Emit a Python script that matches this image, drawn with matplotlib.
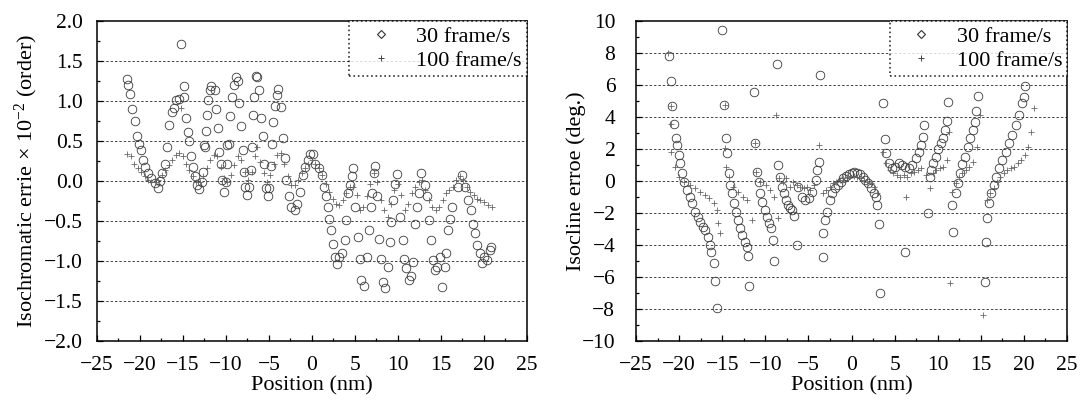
import numpy as np
import matplotlib.pyplot as plt
from matplotlib.lines import Line2D
from matplotlib.ticker import MultipleLocator

plt.rcParams['font.family'] = ['Liberation Serif', 'DejaVu Serif']
plt.rcParams['mathtext.fontset'] = 'custom'
plt.rcParams['mathtext.rm'] = 'Liberation Serif'
plt.rcParams['mathtext.it'] = 'Liberation Serif:italic'
plt.rcParams['axes.unicode_minus'] = True

# isochromatic error, 30 frame/s (circles)
iso_x30 = [-21.47, -21.35, -21.15, -20.87, -20.55, -20.35, -20.15, -19.86, -19.66, -19.38,
           -19.06, -18.66, -18.26, -17.94, -17.66, -17.4, -17.1, -16.85, -16.6, -16.33,
           -16.05, -15.85, -15.5, -15.17, -14.93, -14.85, -14.65, -14.45, -14.25, -14.05,
           -13.85, -13.64, -13.36, -13.12, -12.84, -12.64, -12.6, -12.44, -12.32, -12.24,
           -12.1, -11.9, -11.76, -11.24, -11.1, -10.95, -10.79, -10.63, -10.43, -10.23,
           -10.03, -9.9, -9.83, -9.67, -9.51, -9.35, -9.11, -8.83, -8.63, -8.43,
           -8.23, -8.03, -7.91, -7.74, -7.58, -7.34, -7.14, -7.02, -6.9, -6.74,
           -6.54, -6.38, -6.14, -5.94, -5.74, -5.54, -5.3, -5.14, -4.94, -4.78,
           -4.61, -4.49, -4.33, -4.09, -3.89, -3.61, -3.41, -3.17, -2.97, -2.69,
           -2.41, -2.0, -1.73, -1.4, -1.08, -0.8, -0.48, -0.2, 0.08, 0.4,
           0.8, 1.12, 1.4, 1.65, 1.89, 2.0, 2.2, 2.4, 2.69, 2.93,
           3.21, 3.53, 3.81, 3.93, 4.21, 4.41, 4.61, 4.78, 5.0, 5.33,
           5.54, 5.74, 6.06, 6.42, 6.62, 6.82, 7.02, 7.22, 7.34, 7.62,
           7.82, 8.03, 8.23, 8.55, 8.83, 9.03, 9.23, 9.43, 9.63, 9.91,
           10.23, 10.55, 10.71, 10.96, 11.24, 11.52, 11.76, 12.04, 12.24, 12.44,
           12.64, 13.12, 13.36, 13.6, 13.84, 14.08, 14.32, 14.57, 14.85, 15.13,
           15.45, 15.65, 15.85, 16.05, 16.25, 17.05, 17.46, 17.86, 18.18, 18.46,
           18.74, 18.98, 19.26, 19.54, 19.78, 20.06, 20.35, 20.67, 20.87]
iso_y30 = [1.28, 1.21, 1.09, 0.90, 0.75, 0.57, 0.47, 0.39, 0.27, 0.18,
           0.10, 0.04, -0.02, -0.09, 0.00, 0.10, 0.22, 0.43, 0.70, 0.86,
           0.91, 1.02, 1.03, 1.72, 1.19, 1.06, 0.79, 0.62, 0.50, 0.31,
           0.18, 0.06, -0.05, -0.10, -0.01, 0.12, 0.45, 0.43, 0.63, 0.83,
           1.02, 1.14, 1.19, 1.14, 0.90, 0.66, 0.37, 0.22, 0.01, -0.13,
           -0.01, 0.45, 0.22, 0.47, 0.82, 1.06, 1.21, 1.30, 1.25, 0.98,
           0.69, 0.39, 0.12, -0.07, -0.17, -0.07, 0.14, 0.43, 0.83, 1.06,
           1.32, 1.30, 1.14, 0.79, 0.56, 0.22, -0.09, -0.19, -0.09, 0.19,
           0.47, 0.74, 0.94, 1.08, 1.16, 0.93, 0.54, 0.29, 0.01, -0.19,
           -0.32, -0.36, -0.28, -0.13, 0.08, 0.18, 0.27, 0.34, 0.34, 0.22,
           0.16, 0.08, -0.07, -0.19, -0.32, -0.47, -0.61, -0.78, -0.95, -1.04,
           -0.95, -0.90, -0.73, -0.49, -0.15, -0.05, 0.06, 0.16, -0.32, -0.70,
           -0.97, -1.24, -1.31, -0.95, -0.61, -0.32, -0.15, 0.10, 0.19, -0.19,
           -0.72, -0.97, -1.26, -1.34, -1.07, -0.76, -0.51, -0.24, -0.03, 0.09,
           -0.45, -0.73, -0.97, -1.09, -1.24, -1.19, -1.01, -0.53, -0.32, -0.15,
           0.10, -0.05, -0.19, -0.49, -0.73, -0.99, -1.11, -1.07, -0.95, -1.32,
           -1.07, -0.90, -0.61, -0.47, -0.32, -0.07, 0.08, -0.07, -0.24, -0.36,
           -0.53, -0.65, -0.80, -0.90, -1.03, -0.95, -0.99, -0.86, -0.82]

# isochromatic error, 100 frame/s (pluses)
iso_x100 = [-21.47, -21.07, -20.67, -20.27, -19.86, -19.46, -19.06, -18.66, -18.26, -17.86,
            -17.46, -17.05, -16.65, -16.25, -15.85, -15.45, -15.25, -15.05, -14.65, -14.25,
            -13.84, -13.44, -13.04, -12.64, -12.24, -11.84, -11.44, -11.04, -10.63, -10.23,
            -9.83, -9.43, -9.03, -8.63, -8.23, -7.82, -7.42, -7.02, -6.62, -6.42,
            -6.02, -5.62, -5.22, -4.82, -4.41, -4.01, -3.61, -3.21, -2.81, -2.41,
            -2.0, -1.6, -1.2, -0.8, -0.4, 0.0, 0.4, 0.8, 1.2, 1.6,
            2.0, 2.4, 2.8, 3.2, 3.6, 4.0, 4.4, 4.8, 5.2, 5.6,
            6.0, 6.4, 6.8, 7.2, 7.6, 8.0, 8.4, 8.8, 9.2, 9.6,
            10.0, 10.4, 10.8, 11.2, 11.6, 12.0, 12.4, 12.8, 13.2, 13.6,
            14.0, 14.4, 14.8, 15.2, 15.6, 16.0, 16.4, 16.8, 17.2, 17.6,
            18.0, 18.4, 18.8, 19.2, 19.6, 20.0, 20.5, 20.9]
iso_y100 = [0.34, 0.31, 0.22, 0.16, 0.11, 0.06, 0.01, -0.01, -0.01, 0.01,
            0.08, 0.14, 0.20, 0.27, 0.33, 0.35, 0.91, 0.31, 0.22, 0.14,
            0.06, -0.01, -0.01, 0.06, 0.16, 0.27, 0.33, 0.31, 0.18, 0.04,
            -0.01, 0.08, 0.20, 0.31, 0.27, 0.12, 0.01, 0.12, 0.31, 0.43,
            0.24, 0.10, -0.01, 0.08, 0.22, 0.33, 0.35, 0.22, 0.06, -0.05,
            -0.05, 0.01, 0.10, 0.16, 0.22, 0.27, 0.22, 0.16, 0.08, -0.03,
            -0.13, -0.22, -0.28, -0.30, -0.24, -0.15, -0.07, -0.07, -0.17, -0.36,
            -0.32, -0.19, -0.03, 0.10, -0.01, -0.24, -0.36, -0.45, -0.28, -0.11,
            -0.03, -0.17, -0.36, -0.28, -0.15, -0.07, -0.01, 0.01, -0.11, -0.24,
            -0.32, -0.36, -0.32, -0.24, -0.15, -0.11, -0.07, 0.01, 0.06, 0.01,
            -0.07, -0.13, -0.17, -0.22, -0.24, -0.26, -0.30, -0.32]

# isocline error, 30 frame/s (circles)
isc_x30 = [-21.15, -21.0, -20.8, -20.6, -20.4, -20.2, -20.07, -19.87, -19.67, -19.39,
           -19.07, -18.79, -18.5, -18.19, -17.87, -17.59, -17.27, -16.99, -16.7, -16.47,
           -16.27, -15.99, -15.79, -15.67, -14.98, -14.86, -14.58, -14.46, -14.26, -14.06,
           -13.86, -13.66, -13.46, -13.18, -12.9, -12.66, -12.38, -12.18, -11.98, -11.86,
           -11.3, -11.18, -10.98, -10.78, -10.58, -10.34, -10.1, -9.86, -9.58, -9.38,
           -9.17, -8.97, -8.65, -8.49, -8.29, -8.05, -7.85, -7.61, -7.37, -7.13,
           -6.89, -6.65, -6.37, -6.17, -5.77, -5.37, -4.97, -4.57, -4.17, -3.97,
           -3.77, -3.65, -3.37, -3.29, -3.05, -2.85, -2.56, -2.24, -1.92, -1.6,
           -1.28, -0.96, -0.64, -0.32, 0.0, 0.32, 0.64, 0.96, 1.28, 1.6,
           1.92, 2.24, 2.56, 2.84, 2.96, 3.13, 3.33, 3.65, 3.85, 4.05,
           4.33, 4.65, 5.05, 5.45, 5.85, 6.17, 6.25, 6.65, 7.05, 7.45,
           7.85, 8.05, 8.25, 8.45, 8.85, 9.05, 9.25, 9.45, 9.78, 10.06,
           10.34, 10.58, 10.86, 11.06, 11.18, 11.66, 11.78, 12.06, 12.34, 12.58,
           12.86, 13.14, 13.46, 13.78, 14.1, 14.34, 14.46, 14.66, 15.47, 15.59,
           15.75, 15.95, 16.19, 16.47, 16.75, 17.07, 17.47, 17.87, 18.27, 18.67,
           19.07, 19.47, 19.79, 19.99, 20.11]
isc_y30 = [7.85, 6.24, 4.71, 3.58, 2.68, 2.27, 1.64, 1.12, 0.53, -0.03,
           -0.55, -0.97, -1.39, -1.91, -2.27, -2.54, -2.85, -3.06, -3.52, -4.0,
           -4.46, -5.15, -6.24, -7.91, 9.48, 4.78, 2.68, 1.74, 0.49, -0.24,
           -0.76, -1.39, -1.91, -2.43, -2.96, -3.37, -3.79, -4.10, -4.69, -6.55,
           5.61, 2.37, 0.60, -0.03, -0.76, -1.28, -1.81, -2.23, -2.64, -2.96,
           -3.65, -5.01, 7.32, 1.01, 0.28, -0.34, -0.76, -1.18, -1.49, -1.70,
           -1.81, -2.18, -4.0, -0.34, -0.97, -1.18, -1.08, -0.66, 0.07, 0.70,
           1.22, 6.66, -3.27, -4.73, -2.44, -1.91, -1.18, -0.76, -0.45, -0.24,
           -0.03, 0.18, 0.32, 0.43, 0.53, 0.60, 0.53, 0.45, 0.28, 0.07,
           -0.13, -0.45, -0.72, -0.97, -1.49, -2.68, -6.97, 4.92, 2.62, 1.74,
           1.12, 0.81, 0.91, 1.12, 1.01, -4.46, 0.91, 0.81, 1.01, 1.43,
           1.85, 2.27, 2.79, 3.52, -1.97, 0.28, 0.70, 1.12, 1.53, 1.99,
           2.37, 2.68, 3.21, 3.79, 4.98, -1.47, -3.20, -0.76, -0.13, 0.49,
           1.08, 1.53, 2.16, 2.68, 3.21, 3.73, 4.40, 5.34, -6.30, -3.83,
           -2.33, -1.39, -0.72, -0.24, 0.28, 0.81, 1.33, 1.85, 2.37, 2.89,
           3.52, 4.15, 4.88, 5.30, 5.97]

# isocline error, 100 frame/s (pluses)
isc_x100 = [-21.31, -21.0, -21.0, -20.92, -20.51, -19.99, -19.39, -18.79, -18.19, -17.59,
            -16.99, -16.51, -15.99, -15.59, -15.47, -15.31, -14.66, -14.66, -14.58, -14.26,
            -13.78, -13.18, -12.58, -12.18, -11.58, -11.18, -11.06, -10.58, -9.98, -9.46,
            -8.97, -8.77, -8.57, -8.37, -7.97, -7.57, -7.17, -6.77, -6.37, -5.97,
            -5.57, -5.17, -4.77, -4.37, -3.77, -3.37, -2.97, -2.56, -2.16, -1.76,
            -1.36, -0.96, -0.56, -0.16, 0.24, 0.64, 1.04, 1.44, 1.84, 2.24,
            2.64, 2.96, 3.65, 4.05, 4.45, 4.85, 5.25, 5.65, 6.05, 6.33,
            6.45, 6.85, 7.25, 7.65, 8.05, 8.65, 9.05, 9.45, 9.85, 10.26,
            10.66, 11.06, 11.26, 11.46, 11.66, 12.06, 12.46, 12.86, 13.26, 13.66,
            14.06, 14.58, 14.86, 15.27, 15.67, 16.07, 16.47, 16.87, 17.27, 17.67,
            18.07, 18.47, 18.87, 19.27, 19.67, 20.07, 20.47, 20.87, 21.15]
isc_y100 = [8.0, 4.71, 3.58, 1.85, 0.91, 0.28, -0.03, -0.24, -0.45, -0.66,
            -0.87, -1.08, -1.39, -1.81, -2.64, -3.27, 4.78, 2.06, 0.91, 0.28,
            -0.34, -0.66, -0.97, -1.18, -2.43, 2.37, 0.60, -0.03, -0.24, -0.55,
            -0.97, 4.15, -2.33, 0.18, -0.03, 0.18, -0.34, -0.03, -0.24, -0.34,
            -0.45, -0.34, -0.55, -0.24, 2.27, -0.76, -0.55, -0.34, -0.13, -0.03,
            0.07, 0.18, 0.28, 0.32, 0.34, 0.28, 0.18, 0.07, -0.03, -0.13,
            -0.34, -0.76, 1.85, 1.12, 0.70, 0.49, 0.39, 0.28, 0.39, -1.01,
            0.28, 0.49, 0.60, 0.70, 0.81, 0.39, -0.45, 0.49, 0.70, 0.81,
            0.91, 1.33, 3.10, -6.36, -0.66, -0.13, 0.28, 0.49, 0.70, 0.91,
            1.22, 2.16, 4.15, -8.4, -1.18, -0.76, -0.45, -0.03, 0.28, 0.49,
            0.70, 0.81, 0.91, 1.12, 1.33, 1.64, 2.16, 3.10, 4.57]

FS = 15.5


def style_axis(ax, ymin, ymax, ymaj, ymin_step, grid_vals, ypad):
    ax.set_xlim(-25, 25)
    ax.set_ylim(ymin, ymax)
    ax.xaxis.set_major_locator(MultipleLocator(5))
    ax.xaxis.set_minor_locator(MultipleLocator(2.5))
    ax.yaxis.set_major_locator(MultipleLocator(ymaj))
    ax.yaxis.set_minor_locator(MultipleLocator(ymin_step))
    ax.tick_params(which='both', direction='in', labelsize=FS, width=0.9)
    ax.tick_params(which='major', length=4)
    ax.tick_params(which='minor', length=2.5)
    ax.tick_params(axis='x', which='major', pad=11)
    ax.tick_params(axis='y', which='major', pad=ypad)
    for v in grid_vals:
        ax.axhline(v, color='#444444', lw=0.7, ls=(0, (2.5, 2)), zorder=0)
    for s in ax.spines.values():
        s.set_linewidth(1.1)
    ax.set_xlabel('Position (nm)', fontsize=FS + 0.5, labelpad=1)


def add_legend(ax):
    handles = [Line2D([], [], ls='none', marker='D', ms=4, mfc='none', mec='#333333', mew=0.8),
               Line2D([], [], ls='none', marker='+', ms=5, color='#444444', mew=0.7)]
    leg = ax.legend(handles, ['30 frame/s', '100 frame/s'], loc='upper right',
                    borderaxespad=0, fancybox=False, fontsize=FS + 0.5, handlelength=2.4,
                    handletextpad=0.4, borderpad=0.22, labelspacing=0.15)
    leg.get_frame().set_edgecolor('black')
    leg.get_frame().set_linestyle(':')
    leg.get_frame().set_linewidth(1.2)


fig = plt.figure(figsize=(10.8, 4.04), dpi=100)
ax1 = fig.add_axes([0.0898, 0.156, 0.398, 0.791])
ax2 = fig.add_axes([0.589, 0.156, 0.399, 0.791])

ax1.plot(iso_x30, iso_y30, ls='none', marker='o', ms=6.2, mfc='none', mec='#3a3a3a', mew=0.6)
ax1.plot(iso_x100, iso_y100, ls='none', marker='+', ms=4, color='#666666', mew=0.6)
style_axis(ax1, -2.0, 2.0, 0.5, 0.25, [-1.5, -1.0, -0.5, 0.0, 0.5, 1.0, 1.5], 10)
ax1.yaxis.set_major_formatter(plt.FuncFormatter(lambda v, p: f'{v:.1f}'.replace('-', '\u2212')))
ax1.set_ylabel(r'Isochromatic errie $\times$ 10$^{-2}$ (order)', fontsize=FS + 0.5, labelpad=3)
add_legend(ax1)

ax2.plot(isc_x30, isc_y30, ls='none', marker='o', ms=6.2, mfc='none', mec='#3a3a3a', mew=0.6)
ax2.plot(isc_x100, isc_y100, ls='none', marker='+', ms=4, color='#666666', mew=0.6)
style_axis(ax2, -10, 10, 2, 1, [-8, -6, -4, -2, 0, 2, 4, 6, 8], 15)
ax2.set_ylabel('Isocline erroe (deg.)', fontsize=FS + 0.5, labelpad=-3)
add_legend(ax2)

fig.savefig('out.png', dpi=100)
